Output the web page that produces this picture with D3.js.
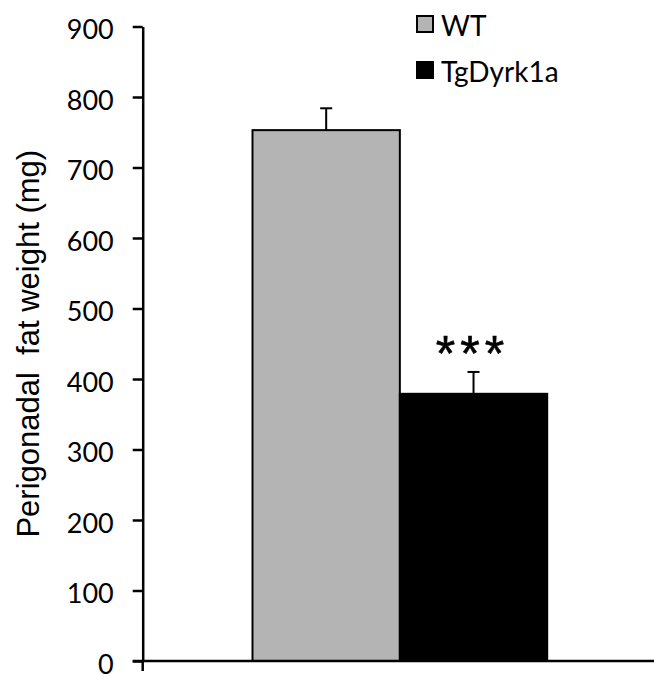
<!DOCTYPE html>
<html>
<head>
<meta charset="utf-8">
<script src="https://cdn.jsdelivr.net/npm/d3@7"></script>
<style>
  body { margin: 0; background: #fff; }
  svg { display: block; }
</style>
</head>
<body>
<svg id="chart"></svg>
<script>
// data
const groups = [""];
const series = ["WT", "TgDyrk1a"];
const means = [753, 379];
const sems = [31, 31];
const yTicks = [0, 100, 200, 300, 400, 500, 600, 700, 800, 900];
const colors = ["#b4b4b4", "#000000"];

const width = 654, height = 674;
const margin = {left: 142.7, right: -3, top: 26.5, bottom: 13};

const svg = d3.select("#chart").attr("width", width).attr("height", height);

const y = d3.scaleLinear()
  .domain([0, 900])
  .range([height - margin.bottom, margin.top]);

const x0 = d3.scaleBand()
  .domain(groups)
  .range([margin.left, width - margin.right])
  .padding(0);

// the two bars take the middle part of the category band
const x1 = d3.scaleBand()
  .domain(series)
  .range([x0.bandwidth() * 0.2135, x0.bandwidth() * 0.7865])
  .padding(0);

const g = svg.append("g");

// bars
const bars = series.map((s, i) => ({s, v: means[i], e: sems[i], c: colors[i]}));
g.selectAll("rect.bar")
  .data(bars)
  .join("rect")
  .attr("class", "bar")
  .attr("x", d => x0(groups[0]) + x1(d.s))
  .attr("y", d => y(d.v))
  .attr("width", x1.bandwidth())
  .attr("height", d => y(0) - y(d.v))
  .attr("fill", d => d.c)
  .attr("stroke", "#000")
  .attr("stroke-width", 2);

// error bars (upper only)
const errG = g.selectAll("g.err")
  .data(bars)
  .join("g")
  .attr("class", "err")
  .attr("transform", d => `translate(${x0(groups[0]) + x1(d.s) + x1.bandwidth() / 2},0)`);
errG.append("line")
  .attr("x1", 0).attr("x2", 0)
  .attr("y1", d => y(d.v)).attr("y2", d => y(d.v + d.e))
  .attr("stroke", "#000").attr("stroke-width", 2);
errG.append("line")
  .attr("x1", -6).attr("x2", 6)
  .attr("y1", d => y(d.v + d.e)).attr("y2", d => y(d.v + d.e))
  .attr("stroke", "#000").attr("stroke-width", 2);

// significance stars
g.append("text")
  .attr("x", x0(groups[0]) + x1("TgDyrk1a") + x1.bandwidth() / 2 - 1)
  .attr("y", y(means[1] + sems[1]) - 1)
  .attr("text-anchor", "middle")
  .attr("font-family", "Liberation Sans, Arial, sans-serif")
  .attr("font-size", 50)
  .attr("letter-spacing", 5)
  .attr("stroke", "#000")
  .attr("stroke-width", 0.6)
  .text("***");

// y axis
const yAxis = g.append("g")
  .attr("transform", `translate(${margin.left},0)`)
  .call(d3.axisLeft(y).tickValues(yTicks).tickSize(10).tickSizeOuter(0).tickPadding(19));
yAxis.select(".domain").attr("stroke-width", 2.5);
yAxis.selectAll(".tick line").attr("stroke-width", 2.5);
yAxis.selectAll(".tick text")
  .attr("font-family", "Lato, Carlito, Calibri, sans-serif")
  .attr("font-size", 27)
  .attr("fill", "#000")
  .attr("dy", "0.46em");

// x axis: line with ticks between categories
const xAxis = g.append("g").attr("transform", `translate(0,${y(0)})`);
xAxis.append("line")
  .attr("x1", margin.left - 10).attr("x2", width)
  .attr("stroke", "#000").attr("stroke-width", 2.5);
xAxis.selectAll("line.tick")
  .data(groups.flatMap(c => [x0(c), x0(c) + x0.bandwidth()]))
  .join("line")
  .attr("class", "tick")
  .attr("x1", d => d).attr("x2", d => d)
  .attr("y1", 0).attr("y2", 10)
  .attr("stroke", "#000").attr("stroke-width", 2.5);

// y axis title
svg.append("text")
  .attr("transform", `translate(39,${(y(0) + y(900)) / 2}) rotate(-90)`)
  .attr("text-anchor", "middle")
  .attr("font-family", "Liberation Sans, Arial, sans-serif")
  .attr("font-size", 31)
  .attr("xml:space", "preserve")
  .style("white-space", "pre")
  .text("Perigonadal  fat weight (mg)");

// legend
const legend = svg.append("g").attr("transform", "translate(416,15)");
const li = legend.selectAll("g")
  .data(bars)
  .join("g")
  .attr("transform", (d, i) => `translate(0,${i * 46})`);
li.append("rect")
  .attr("x", 1).attr("y", 1)
  .attr("width", 16).attr("height", 16)
  .attr("fill", d => d.c)
  .attr("stroke", "#000")
  .attr("stroke-width", 2);
li.append("text")
  .attr("x", 25).attr("y", 20.5)
  .attr("font-family", "Lato, Carlito, Calibri, sans-serif")
  .attr("font-size", 28)
  .text(d => d.s);
</script>
</body>
</html>
